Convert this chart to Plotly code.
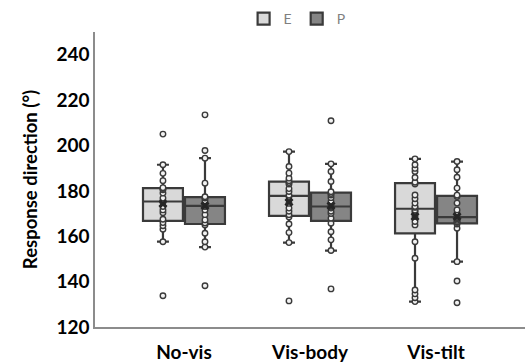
import numpy as np
import plotly.graph_objects as go

conditions = ["No-vis", "Vis-body", "Vis-tilt"]

E_novis = [133.8, 157.6, 163.1, 164.6, 166.0, 167.5, 170.4, 171.6, 173.1, 175.0,
           175.6, 176.8, 179.0, 180.5, 181.0, 181.4, 184.5, 187.7, 191.5, 205.0]
P_novis = [138.2, 155.2, 157.6, 161.3, 165.0, 165.8, 167.2, 169.5, 171.6, 173.1,
           173.7, 174.6, 175.5, 176.8, 177.0, 177.4, 183.4, 194.4, 197.8, 213.5]
E_visbody = [131.5, 157.2, 161.6, 165.4, 168.5, 169.5, 171.0, 172.4, 174.5, 177.5,
             178.1, 179.7, 181.0, 183.0, 183.7, 184.5, 185.6, 187.8, 190.7, 197.3]
P_visbody = [136.8, 153.7, 158.4, 162.0, 165.7, 167.9, 170.0, 171.0, 172.4, 172.9,
             173.3, 175.3, 177.0, 178.2, 178.8, 179.6, 184.1, 188.5, 191.9, 210.9]
E_vistilt = [131.2, 132.9, 134.6, 136.3, 150.3, 157.6, 165.0, 166.5, 168.7, 170.0,
             171.0, 171.5, 172.7, 173.1, 174.6, 176.5, 178.2, 183.0, 183.8, 185.9,
             188.5, 189.9, 191.5, 194.1]
P_vistilt = [130.7, 140.3, 148.8, 163.5, 165.4, 166.0, 166.4, 167.0, 167.6, 168.1,
             168.7, 170.0, 171.6, 174.6, 177.5, 178.1, 181.2, 186.0, 189.3, 192.9]

E_values = [E_novis, E_visbody, E_vistilt]
P_values = [P_novis, P_visbody, P_vistilt]

y_ticks = [120, 140, 160, 180, 200, 220, 240]

DARK = "#3a3a3a"
FONT = "Lato"


def long_form(groups):
    xs, ys = [], []
    for c, vals in zip(conditions, groups):
        xs += [c] * len(vals)
        ys += list(vals)
    return xs, ys


fig = go.Figure()
for name, groups, fill in [("E", E_values, "#d9d9d9"), ("P", P_values, "#858585")]:
    xs, ys = long_form(groups)
    fig.add_trace(go.Box(
        x=xs, y=ys, name=name, fillcolor=fill,
        line=dict(color=DARK, width=2.2),
        boxpoints="all", jitter=0, pointpos=0, whiskerwidth=0.3,
        marker=dict(size=5.5, color="#f2f2f2", line=dict(color=DARK, width=1.4)),
        offsetgroup=name, hoverinfo="y",
    ))
for name, groups in [("E", E_values), ("P", P_values)]:
    fig.add_trace(go.Scatter(
        x=conditions, y=[float(np.mean(v)) for v in groups],
        mode="markers", marker=dict(symbol="x", size=8, color="#262626"),
        offsetgroup=name, showlegend=False, hoverinfo="y",
    ))

fig.update_layout(
    width=525, height=363,
    margin=dict(l=95, r=0, t=32, b=36),
    paper_bgcolor="white", plot_bgcolor="white",
    boxmode="group", boxgap=0.333, boxgroupgap=0.05,
    scattermode="group", scattergap=0.333,
    font=dict(family=FONT, color="black"),
    legend=dict(orientation="h", x=0.47, xanchor="center", y=0.99, yanchor="bottom",
                font=dict(size=14, color="#7f7f7f", family=FONT),
                itemwidth=30, bgcolor="rgba(0,0,0,0)"),
)
fig.update_xaxes(
    type="category", categoryorder="array", categoryarray=conditions,
    range=[-0.706, 2.706], showline=True, linecolor="#8c8c8c", linewidth=1.5,
    showgrid=False, ticks="", zeroline=False, automargin=False,
    ticklabelstandoff=7,
    tickfont=dict(size=19, weight="bold", color="black", family=FONT),
)
fig.update_yaxes(
    range=[120, 250], tickvals=y_ticks, showline=True, linecolor="#8c8c8c",
    linewidth=1.5, showgrid=False, ticks="", zeroline=False, automargin=False,
    tickfont=dict(size=19, weight="bold", color="black", family=FONT),
    title=dict(text="Response direction (°)", standoff=14,
               font=dict(size=18.5, weight="bold", color="black", family=FONT)),
)

fig.write_html(
    "out.html",
    config={"displayModeBar": False},
    post_script="document.body.style.margin='0';document.body.style.overflow='hidden';",
)
